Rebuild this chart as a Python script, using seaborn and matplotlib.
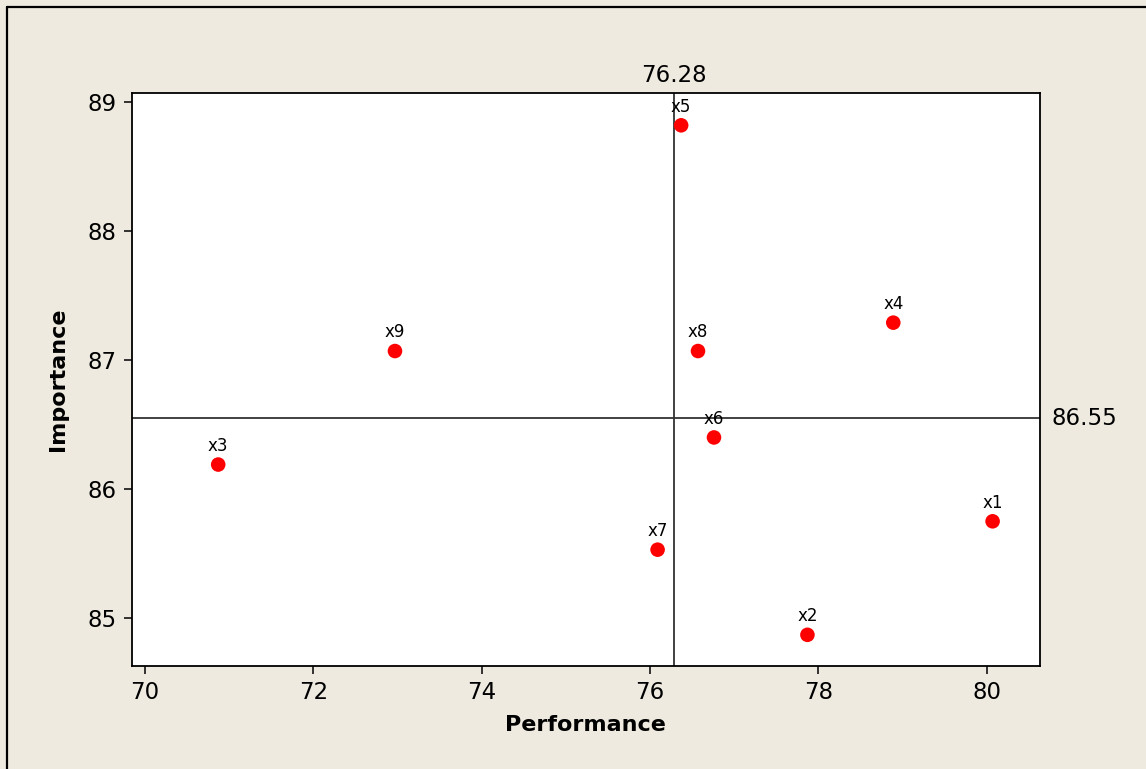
import pandas as pd
import seaborn as sns
import matplotlib.pyplot as plt
from matplotlib.lines import Line2D

# Data
labels = ["x1", "x2", "x3", "x4", "x5", "x6", "x7", "x8", "x9"]
performance = [80.07, 77.87, 70.87, 78.89, 76.37, 76.76, 76.09, 76.57, 72.97]
importance = [85.75, 84.87, 86.19, 87.29, 88.82, 86.40, 85.53, 87.07, 87.07]
perf_ref = 76.28
imp_ref = 86.55
x_ticks = [70, 72, 74, 76, 78, 80]
y_ticks = [85, 86, 87, 88, 89]

df = pd.DataFrame({"Performance": performance, "Importance": importance, "label": labels})

sns.set_style("white")
plt.rcParams["font.family"] = ["DejaVu Sans"]
plt.rcParams["text.color"] = "black"
plt.rcParams["axes.labelcolor"] = "black"
plt.rcParams["xtick.color"] = "black"
plt.rcParams["ytick.color"] = "black"
bg = "#EEEAE0"

fig = plt.figure(figsize=(11.46, 7.69), dpi=100, facecolor=bg)
ax = fig.add_axes([0.1149, 0.1339, 0.7926, 0.7451])
ax.set_facecolor("white")

sns.scatterplot(data=df, x="Performance", y="Importance", color="#FF0000",
                s=110, edgecolor="none", ax=ax, zorder=3)

# Quadrant reference lines
ax.axvline(perf_ref, color="#333333", lw=1.3, zorder=2)
ax.axhline(imp_ref, color="#333333", lw=1.3, zorder=2)

ax.annotate(f"{perf_ref:.2f}", xy=(perf_ref, 1), xycoords=("data", "axes fraction"),
            xytext=(0, 4), textcoords="offset points", ha="center", va="bottom",
            fontsize=16.5, annotation_clip=False)
ax.annotate(f"{imp_ref:.2f}", xy=(1, imp_ref), xycoords=("axes fraction", "data"),
            xytext=(8, 0), textcoords="offset points", ha="left", va="center",
            fontsize=16.5, annotation_clip=False)

# Point labels
for px, py, lab in zip(performance, importance, labels):
    ax.annotate(lab, xy=(px, py), xytext=(0, 7), textcoords="offset points",
                ha="center", va="bottom", fontsize=12)

ax.set_xlim(69.842, 80.633)
ax.set_ylim(84.628, 89.07)
ax.set_xticks(x_ticks)
ax.set_yticks(y_ticks)
ax.tick_params(direction="out", length=6, width=1.1, labelsize=16.5, pad=5,
               bottom=True, left=True, color="black", labelcolor="black")

for sp in ax.spines.values():
    sp.set_color("black")
    sp.set_linewidth(1.3)

ax.set_xlabel("Performance", fontsize=16, fontweight="bold", labelpad=8, color="black")
ax.set_ylabel("Importance", fontsize=16, fontweight="bold", labelpad=14, color="black")

# Outer frame (left and top edges visible)
fig.add_artist(Line2D([7 / 1146, 7 / 1146], [0, 1 - 7 / 769], transform=fig.transFigure,
                      color="black", lw=1.6))
fig.add_artist(Line2D([7 / 1146, 1], [1 - 7 / 769, 1 - 7 / 769], transform=fig.transFigure,
                      color="black", lw=1.6))

fig.savefig("out.png", dpi=100, facecolor=bg)
